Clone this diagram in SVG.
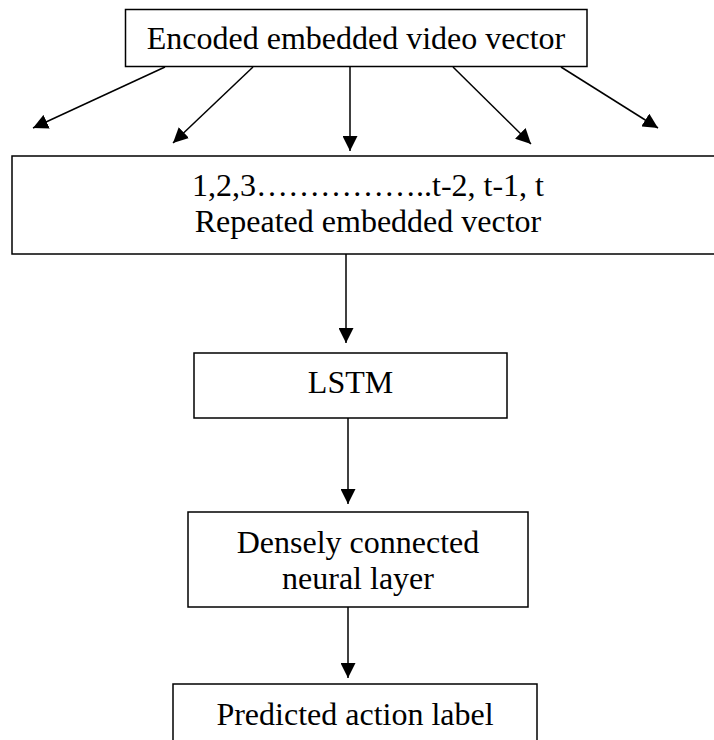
<svg xmlns="http://www.w3.org/2000/svg" width="714" height="740" viewBox="0 0 714 740">
<style>
.box{fill:#fff;stroke:#000;stroke-width:1.5}
.lbl{font-family:"Liberation Serif","Times New Roman",serif;font-size:32px;fill:#000;text-anchor:middle}
.con{stroke:#000;stroke-width:1.5;fill:none;marker-end:url(#ah)}
</style>
<defs>
<marker id="ah" viewBox="0 0 15 15" markerWidth="15" markerHeight="15" refX="15" refY="7.5" orient="auto" markerUnits="userSpaceOnUse">
<path d="M0,0 L15,7.5 L0,15 Z" fill="#000"/>
</marker>
</defs>
<rect width="714" height="740" fill="#fff"/>
<g id="connectors">
<line class="con" x1="165" y1="67" x2="33" y2="128"/>
<line class="con" x1="253" y1="67" x2="173" y2="143"/>
<line class="con" x1="350" y1="67" x2="350" y2="151"/>
<line class="con" x1="453" y1="67" x2="531" y2="144"/>
<line class="con" x1="561" y1="67" x2="658" y2="128"/>
<line class="con" x1="346" y1="254" x2="346" y2="343"/>
<line class="con" x1="348" y1="418" x2="348" y2="504"/>
<line class="con" x1="348" y1="607" x2="348" y2="678"/>
</g>
<g id="node-encoded">
<rect class="box" x="125.5" y="9.5" width="461.5" height="57"/>
<text class="lbl" x="356" y="49">Encoded embedded video vector</text>
</g>
<g id="node-repeated">
<rect class="box" x="12" y="156" width="712" height="98"/>
<text class="lbl" x="368" y="196">1,2,3……………..t-2, t-1, t</text>
<text class="lbl" x="368" y="232">Repeated embedded vector</text>
</g>
<g id="node-lstm">
<rect class="box" x="194" y="353" width="313" height="65"/>
<text class="lbl" x="350.5" y="393">LSTM</text>
</g>
<g id="node-dense">
<rect class="box" x="188" y="512" width="340" height="95"/>
<text class="lbl" x="358" y="553">Densely connected</text>
<text class="lbl" x="358" y="589">neural layer</text>
</g>
<g id="node-predicted">
<rect class="box" x="173" y="684" width="364" height="70"/>
<text class="lbl" x="355" y="725">Predicted action label</text>
</g>
</svg>
